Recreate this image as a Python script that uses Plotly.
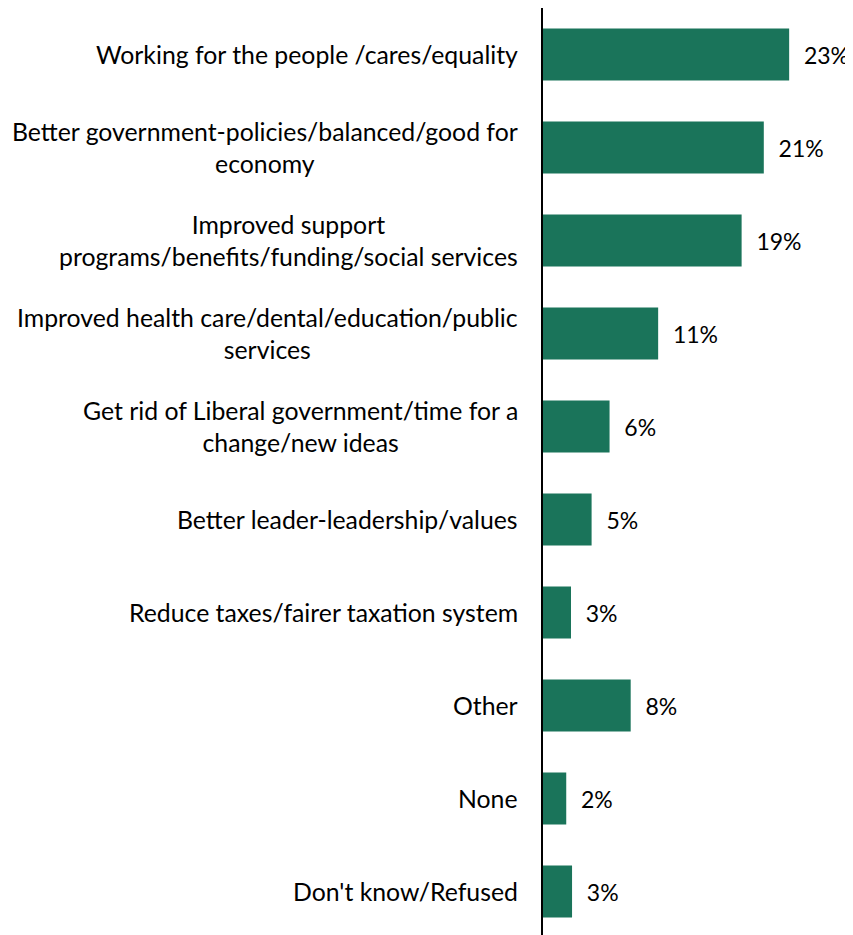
import plotly.graph_objects as go

categories = [
    "Working for the people /cares/equality",
    "Better government-policies/balanced/good for<br>economy",
    "Improved support<br>programs/benefits/funding/social services",
    "Improved health care/dental/education/public<br>services",
    "Get rid of Liberal government/time for a<br>change/new ideas",
    "Better leader-leadership/values",
    "Reduce taxes/fairer taxation system",
    "Other",
    "None",
    "Don't know/Refused",
]
values = [23.3, 20.9, 18.8, 10.9, 6.3, 4.6, 2.65, 8.3, 2.2, 2.75]
value_labels = ["23%", "21%", "19%", "11%", "6%", "5%", "3%", "8%", "2%", "3%"]

FONT = "Lato"

fig = go.Figure(
    go.Bar(
        x=values,
        y=categories,
        orientation="h",
        marker=dict(color="#1A745A", line=dict(width=0)),
        text=value_labels,
        texttemplate="\u00a0\u00a0%{text}",
        textposition="outside",
        cliponaxis=False,
        textfont=dict(family=FONT, size=23, color="#000000"),
        hoverinfo="skip",
    )
)

# Category labels as centre-aligned annotations (multi-line lines centred)
for cat in categories:
    fig.add_annotation(
        x=0,
        xref="paper",
        y=cat,
        yref="y",
        text=cat,
        showarrow=False,
        xanchor="right",
        yanchor="middle",
        align="center",
        xshift=-23,
        font=dict(family=FONT, size=24.8, color="#000000"),
    )

fig.update_layout(
    width=853,
    height=935,
    margin=dict(l=535, r=0, t=0, b=5),
    paper_bgcolor="white",
    plot_bgcolor="white",
    bargap=0.44,
    showlegend=False,
    font=dict(family=FONT, color="#000000"),
)
fig.update_xaxes(range=[0, 30.1], visible=False, showgrid=False, zeroline=False)
fig.update_yaxes(
    autorange="reversed",
    automargin=False,
    showline=True,
    linecolor="#000000",
    linewidth=2,
    showgrid=False,
    zeroline=False,
    ticks="",
    showticklabels=False,
)

fig.write_html("out.html")
